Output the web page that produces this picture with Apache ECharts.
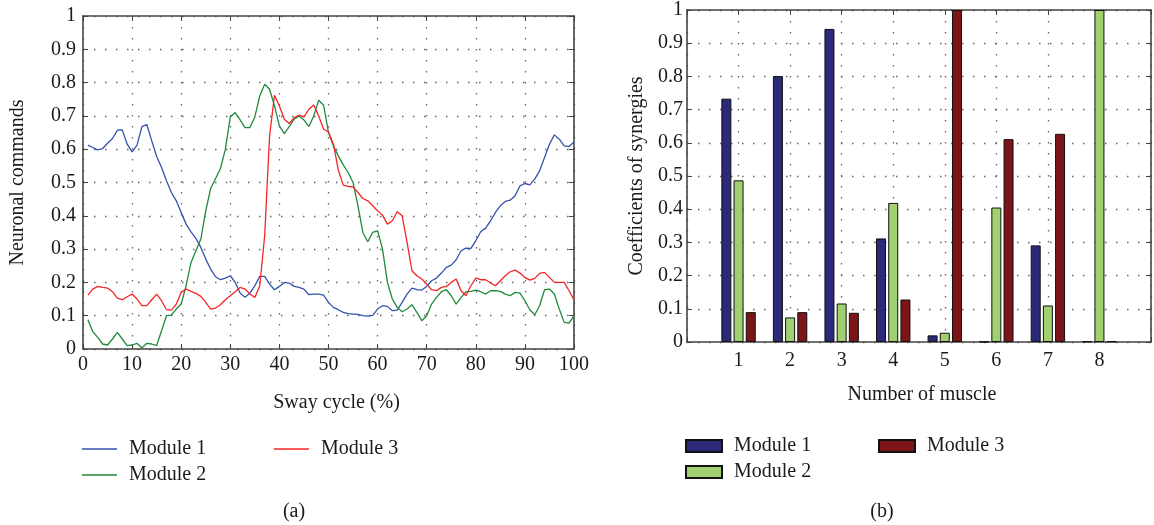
<!DOCTYPE html>
<html>
<head>
<meta charset="utf-8">
<script src="https://cdn.jsdelivr.net/npm/echarts@6/dist/echarts.min.js"></script>
<style>
  html, body { margin: 0; padding: 0; background: #fff; }
  #wrap { position: relative; width: 1154px; height: 525px; overflow: hidden; }
  #chartA { position: absolute; left: 0; top: 0; width: 600px; height: 525px; }
  #chartB { position: absolute; left: 600px; top: 0; width: 554px; height: 525px; }
</style>
</head>
<body>
<div id="wrap">
  <div id="chartA"></div>
  <div id="chartB"></div>
</div>
<script>
// (a) neuronal commands over the sway cycle, sampled at 1..100 %
const swayCycle = Array.from({ length: 100 }, (_, i) => i + 1);

const module1Commands = [
  0.612, 0.605, 0.598, 0.602, 0.618, 0.632, 0.657, 0.658, 0.615, 0.592,
  0.612, 0.668, 0.674, 0.625, 0.578, 0.545, 0.505, 0.470, 0.445, 0.410,
  0.375, 0.352, 0.332, 0.305, 0.270, 0.240, 0.217, 0.208, 0.213, 0.220,
  0.200, 0.168, 0.155, 0.168, 0.190, 0.218, 0.218, 0.195, 0.178, 0.188,
  0.200, 0.198, 0.188, 0.185, 0.180, 0.163, 0.165, 0.165, 0.162, 0.140,
  0.125, 0.118, 0.110, 0.106, 0.105, 0.104, 0.100, 0.099, 0.101, 0.120,
  0.130, 0.128, 0.115, 0.117, 0.140, 0.165, 0.183, 0.178, 0.177, 0.188,
  0.205, 0.213, 0.228, 0.245, 0.252, 0.268, 0.295, 0.303, 0.302, 0.325,
  0.352, 0.363, 0.385, 0.410, 0.430, 0.443, 0.447, 0.460, 0.490, 0.497,
  0.493, 0.510, 0.535, 0.575, 0.615, 0.643, 0.630, 0.610, 0.608, 0.622
];

const module2Commands = [
  0.088, 0.052, 0.035, 0.015, 0.012, 0.030, 0.050, 0.030, 0.010, 0.012,
  0.017, 0.003, 0.017, 0.015, 0.010, 0.055, 0.100, 0.102, 0.120, 0.135,
  0.190, 0.260, 0.295, 0.330, 0.415, 0.482, 0.512, 0.542, 0.600, 0.697,
  0.710, 0.688, 0.665, 0.665, 0.697, 0.760, 0.795, 0.780, 0.730, 0.670,
  0.647, 0.668, 0.690, 0.700, 0.688, 0.668, 0.700, 0.747, 0.732, 0.650,
  0.610, 0.580, 0.553, 0.530, 0.500, 0.430, 0.350, 0.322, 0.350, 0.355,
  0.300, 0.200, 0.150, 0.125, 0.112, 0.120, 0.133, 0.110, 0.085, 0.100,
  0.135, 0.155, 0.172, 0.178, 0.160, 0.135, 0.155, 0.172, 0.173, 0.177,
  0.172, 0.165, 0.175, 0.175, 0.173, 0.165, 0.160, 0.170, 0.168, 0.145,
  0.118, 0.103, 0.130, 0.178, 0.180, 0.165, 0.120, 0.080, 0.078, 0.100
];

const module3Commands = [
  0.162, 0.180, 0.188, 0.185, 0.183, 0.172, 0.153, 0.148, 0.157, 0.165,
  0.150, 0.130, 0.130, 0.148, 0.165, 0.145, 0.118, 0.117, 0.135, 0.170,
  0.180, 0.173, 0.167, 0.158, 0.140, 0.120, 0.123, 0.133, 0.148, 0.160,
  0.172, 0.185, 0.180, 0.165, 0.155, 0.190, 0.340, 0.640, 0.762, 0.730,
  0.690, 0.677, 0.695, 0.702, 0.697, 0.720, 0.733, 0.700, 0.660, 0.652,
  0.615, 0.537, 0.492, 0.488, 0.487, 0.470, 0.452, 0.445, 0.430, 0.415,
  0.402, 0.375, 0.385, 0.412, 0.400, 0.320, 0.235, 0.220, 0.210, 0.195,
  0.178, 0.175, 0.185, 0.188, 0.200, 0.210, 0.175, 0.160, 0.190, 0.213,
  0.208, 0.208, 0.198, 0.190, 0.205, 0.220, 0.232, 0.237, 0.228, 0.215,
  0.207, 0.212, 0.227, 0.230, 0.215, 0.200, 0.200, 0.200, 0.175, 0.147
];

// (b) coefficients of synergies per muscle
const muscles = ['1', '2', '3', '4', '5', '6', '7', '8'];
const module1Coeffs = [0.733, 0.801, 0.943, 0.312, 0.020, 0.001, 0.291, 0.002];
const module2Coeffs = [0.487, 0.074, 0.116, 0.419, 0.028, 0.405, 0.110, 1.000];
const module3Coeffs = [0.090, 0.090, 0.088, 0.128, 1.000, 0.611, 0.627, 0.002];

const FONT = "'Liberation Serif', 'Times New Roman', serif";
const TEXT = '#1a1a1a';
const FRAME = '#444';
const gridDots = { color: '#666', width: 1.3, type: [1.5, 9.5] };

function frameAxis(extra) {
  return Object.assign({
    axisLine: { show: true, onZero: false, lineStyle: { color: FRAME, width: 1.6 } },
    axisTick: { show: true, inside: true, length: 5, lineStyle: { color: FRAME, width: 1 } },
    axisLabel: { color: TEXT, fontSize: 20, fontFamily: FONT },
    nameTextStyle: { color: TEXT, fontSize: 20, fontFamily: FONT }
  }, extra);
}

const legendText = { color: TEXT, fontSize: 20, fontFamily: FONT, padding: [0, 0, 0, 7] };

// ---------- (a) line chart ----------
const chartA = echarts.init(document.getElementById('chartA'), null, { renderer: 'canvas' });
const pairs = vals => swayCycle.map((x, i) => [x, vals[i]]);
const lineSeries = (name, vals, color) => ({
  name, type: 'line', data: pairs(vals), symbol: 'none', showSymbol: false,
  lineStyle: { color, width: 1.3 }, itemStyle: { color }, animation: false
});

// line keys: a thin bar in the series colour
const lineKey = { orient: 'vertical', top: 439, padding: 0, icon: 'rect',
  itemWidth: 35, itemHeight: 1.6, itemGap: 6, textStyle: legendText, selectedMode: false };

chartA.setOption({
  animation: false,
  grid: { left: 83, top: 16, width: 491, height: 333 },
  xAxis: [
    frameAxis({
      type: 'value', min: 0, max: 100, interval: 10, position: 'bottom',
      axisLabel: { color: TEXT, fontSize: 20, fontFamily: FONT, margin: 6 },
      splitLine: { show: true, lineStyle: gridDots },
      name: 'Sway cycle (%)', nameLocation: 'middle', nameGap: 44,
      nameTextStyle: { color: TEXT, fontSize: 20, fontFamily: FONT, padding: [0, 0, 0, 16] }
    }),
    frameAxis({
      type: 'value', min: 0, max: 100, interval: 10, position: 'top',
      axisLabel: { show: false }, splitLine: { show: false }
    })
  ],
  yAxis: [
    frameAxis({
      type: 'value', min: 0, max: 1, interval: 0.1, position: 'left',
      axisLabel: { color: TEXT, fontSize: 20, fontFamily: FONT, margin: 7 },
      splitLine: { show: true, lineStyle: gridDots },
      name: 'Neuronal commands', nameLocation: 'middle', nameGap: 55
    }),
    frameAxis({
      type: 'value', min: 0, max: 1, interval: 0.1, position: 'right',
      axisLabel: { show: false }, splitLine: { show: false }
    })
  ],
  legend: [
    Object.assign({ data: ['Module 1', 'Module 2'], left: 82 }, lineKey),
    Object.assign({ data: ['Module 3'], left: 274 }, lineKey)
  ],
  graphic: [
    { type: 'text', x: 294, y: 512, style: { text: '(a)', font: '20px ' + FONT, fill: TEXT,
      textAlign: 'center', textVerticalAlign: 'middle' } }
  ],
  series: [
    lineSeries('Module 1', module1Commands, '#3352ad'),
    lineSeries('Module 2', module2Commands, '#1f8a3c'),
    lineSeries('Module 3', module3Commands, '#f42525')
  ]
});

// ---------- (b) bar chart ----------
const chartB = echarts.init(document.getElementById('chartB'), null, { renderer: 'canvas' });
// one empty slot on each side of the muscles so the axis runs from 0 to 9
const muscleAxis = [''].concat(muscles, ['']);
const padded = vals => ['-'].concat(vals, ['-']);
const barSeries = (name, vals, color) => ({
  name, type: 'bar', data: padded(vals), barWidth: 10, barGap: '22%',
  itemStyle: { color, borderColor: '#111', borderWidth: 1 }, animation: false
});

const barKey = { orient: 'vertical', top: 436, padding: 0, icon: 'rect',
  itemWidth: 36, itemHeight: 12, itemGap: 6, textStyle: legendText, selectedMode: false };

chartB.setOption({
  animation: false,
  grid: { left: 87, top: 9, width: 473, height: 333 },
  xAxis: [
    frameAxis({
      type: 'category', data: muscleAxis, boundaryGap: false, position: 'bottom',
      axisTick: { show: true, inside: true, length: 5, interval: 0, lineStyle: { color: FRAME } },
      axisLabel: { color: TEXT, fontSize: 20, fontFamily: FONT, margin: 9, interval: 0 },
      splitLine: { show: true, interval: 0, lineStyle: gridDots },
      name: 'Number of muscle', nameLocation: 'middle', nameGap: 43,
      nameTextStyle: { color: TEXT, fontSize: 20, fontFamily: FONT, padding: [0, 0, 0, 6] }
    }),
    frameAxis({
      type: 'category', data: muscleAxis, boundaryGap: false, position: 'top',
      axisTick: { show: true, inside: true, length: 5, interval: 0, lineStyle: { color: FRAME } },
      axisLabel: { show: false }, splitLine: { show: false }
    })
  ],
  yAxis: [
    frameAxis({
      type: 'value', min: 0, max: 1, interval: 0.1, position: 'left',
      axisLabel: { color: TEXT, fontSize: 20, fontFamily: FONT, margin: 4 },
      splitLine: { show: true, lineStyle: gridDots },
      name: 'Coefficients of synergies', nameLocation: 'middle', nameGap: 39
    }),
    frameAxis({
      type: 'value', min: 0, max: 1, interval: 0.1, position: 'right',
      axisLabel: { show: false }, splitLine: { show: false }
    })
  ],
  legend: [
    Object.assign({ data: ['Module 1', 'Module 2'], left: 85 }, barKey),
    Object.assign({ data: ['Module 3'], left: 278 }, barKey)
  ],
  graphic: [
    { type: 'text', x: 282, y: 512, style: { text: '(b)', font: '20px ' + FONT, fill: TEXT,
      textAlign: 'center', textVerticalAlign: 'middle' } }
  ],
  series: [
    barSeries('Module 1', module1Coeffs, '#2a2a78'),
    barSeries('Module 2', module2Coeffs, '#a0d070'),
    barSeries('Module 3', module3Coeffs, '#7c1418')
  ]
});
</script>
</body>
</html>
